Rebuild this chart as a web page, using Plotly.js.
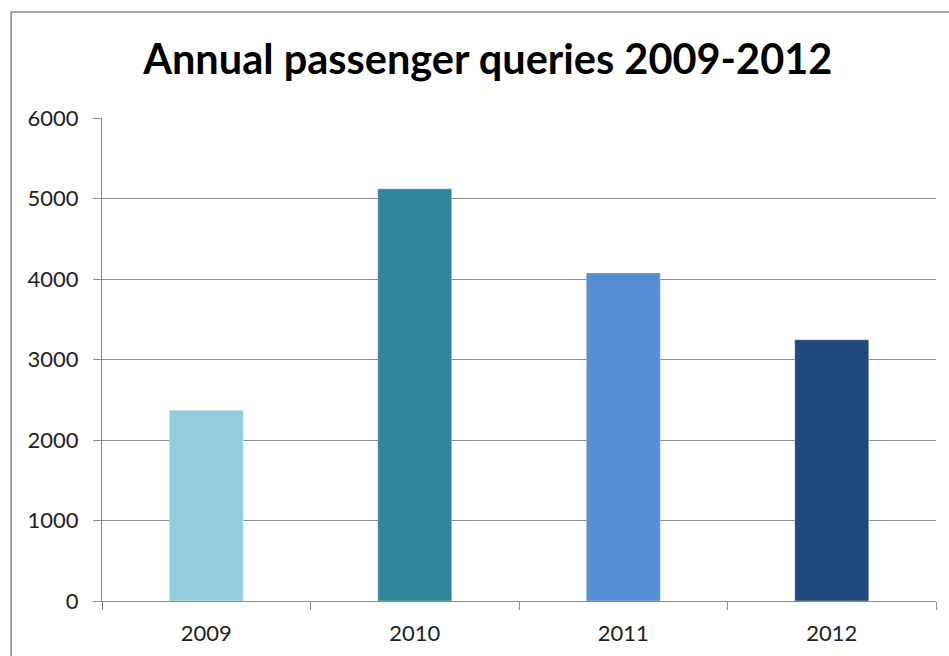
<!DOCTYPE html>
<html>
<head>
<meta charset="utf-8">
<script src="https://cdn.plot.ly/plotly-3.0.1.min.js"></script>
<style>
html,body{margin:0;padding:0;background:#fff;overflow:hidden;}
#chart{width:949px;height:656px;}
</style>
</head>
<body>
<div id="chart"></div>
<script>
const years = ["2009", "2010", "2011", "2012"];
const queries = [2370, 5120, 4075, 3245];
const barColors = ["#93CDDD", "#31859C", "#558ED5", "#1F497D"];
const yTicks = [0, 1000, 2000, 3000, 4000, 5000, 6000];

const trace = {
  type: "bar",
  x: years,
  y: queries,
  marker: { color: barColors, line: { color: "rgba(255,255,255,0.35)", width: 1 } },
  hoverinfo: "x+y"
};

const layout = {
  width: 949,
  height: 656,
  margin: { l: 102, r: 13, t: 118, b: 55 },
  paper_bgcolor: "#ffffff",
  plot_bgcolor: "#ffffff",
  showlegend: false,
  bargap: 0.645,
  title: {
    text: "<b>Annual passenger queries 2009-2012</b>",
    font: { family: "Lato, 'Open Sans', sans-serif", size: 41.5, color: "#000000" },
    xref: "container", x: 0.514, xanchor: "center",
    yref: "container", y: 0.909, yanchor: "middle"
  },
  xaxis: {
    type: "category",
    tickson: "boundaries",
    ticks: "outside",
    ticklen: 8,
    tickcolor: "#8c8c8c",
    tickwidth: 1,
    showline: true,
    linecolor: "#8c8c8c",
    linewidth: 1,
    showgrid: false,
    ticklabelstandoff: 13,
    tickfont: { family: "Lato, 'Open Sans', sans-serif", size: 22, color: "#222222" },
    fixedrange: true
  },
  yaxis: {
    range: [0, 6000],
    tickvals: yTicks,
    ticktext: yTicks.map(String),
    ticks: "outside",
    ticklen: 8,
    tickcolor: "#8c8c8c",
    showline: true,
    linecolor: "#8c8c8c",
    linewidth: 1,
    showgrid: true,
    gridcolor: "#8c8c8c",
    gridwidth: 1,
    zeroline: false,
    ticklabelstandoff: 10,
    tickfont: { family: "Lato, 'Open Sans', sans-serif", size: 22, color: "#222222" },
    fixedrange: true
  },
  shapes: [
    {
      type: "rect", xref: "paper", yref: "paper",
      x0: -0.109, x1: 2, y0: -1, y1: 1.2196,
      line: { color: "#8c8c8c", width: 1.5 },
      fillcolor: "rgba(0,0,0,0)",
      layer: "below"
    }
  ]
};

Plotly.newPlot("chart", [trace], layout, { displayModeBar: false, staticPlot: true });
</script>
</body>
</html>
